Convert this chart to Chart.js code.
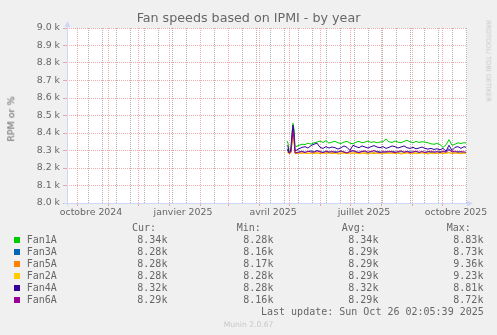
<!DOCTYPE html>
<html>
<head>
<meta charset="utf-8">
<script src="https://cdn.jsdelivr.net/npm/chart.js@4.4.0/dist/chart.umd.min.js"></script>
<style>
body { margin: 0; background: #f0f0f0; }
#wrap { position: relative; width: 497px; height: 335px; overflow: hidden; font-family: 'DejaVu Sans'; color: #666; }
#c { position: absolute; left: 0; top: 0; }
.t { position: absolute; white-space: pre; line-height: 1; }
.mono { font-family: 'DejaVu Sans Mono'; font-size: 10px; }
.sq { position: absolute; width: 6px; height: 6px; }
</style>
</head>
<body>
<div id="wrap">
<canvas id="c" width="497" height="335"></canvas>
<div class="t" style="left:0;width:497px;text-align:center;top:12px;font-size:12.7px;">Fan speeds based on IPMI - by year</div>
<div class="t" style="left:11px;top:119px;font-size:9.5px;transform:translate(-50%,-50%) rotate(-90deg);">RPM or %</div>
<div class="t" style="left:488px;top:61px;font-size:6.5px;color:#c8c8c8;transform:translate(-50%,-50%) rotate(90deg);">RRDTOOL/ TOBI OETIKER</div>
<div class="t" style="left:0;width:497px;text-align:center;top:320.5px;font-size:7.6px;color:#c8c8c8;">Munin 2.0.67</div>
</div>
<script>
// days since 21 sept 2024 (x axis spans 400 days)
var days = [220, 221, 222, 223, 224, 225, 226, 227, 228,
    229, 232, 235, 238, 241, 244, 247, 250, 253, 256,
    259, 262, 265, 268, 271, 274, 277, 280, 283, 286,
    289, 292, 295, 298, 301, 304, 307, 310, 313, 316,
    319, 322, 325, 328, 331, 334, 337, 340, 343, 346,
    349, 352, 355, 358, 361, 364, 367, 370, 373, 376,
    379, 382, 385, 388, 391, 394, 397, 399];

var fan1a = [8355, 8342, 8292, 8300, 8322, 8400, 8455, 8420, 8330,
    8322, 8330, 8336, 8334, 8342, 8336, 8344, 8348, 8354, 8346,
    8356, 8342, 8348, 8352, 8344, 8340, 8348, 8352, 8342, 8338,
    8348, 8352, 8344, 8348, 8354, 8346, 8350, 8344, 8348, 8350,
    8366, 8350, 8346, 8354, 8348, 8344, 8352, 8358, 8350, 8344,
    8352, 8346, 8350, 8348, 8344, 8338, 8336, 8340, 8334, 8318,
    8332, 8362, 8330, 8336, 8344, 8340, 8345, 8342];
var fan3a = [8310, 8300, 8285, 8286, 8292, 8370, 8420, 8380, 8290,
    8288, 8292, 8296, 8290, 8294, 8298, 8292, 8300, 8294, 8290,
    8296, 8292, 8288, 8294, 8290, 8296, 8292, 8288, 8294, 8298,
    8292, 8290, 8296, 8292, 8288, 8294, 8290, 8296, 8292, 8288,
    8294, 8290, 8296, 8292, 8288, 8294, 8290, 8296, 8292, 8290,
    8294, 8288, 8292, 8290, 8294, 8288, 8292, 8290, 8294, 8290,
    8296, 8310, 8292, 8288, 8294, 8290, 8286, 8284];
var fan5a = [8290, 8288, 8282, 8284, 8288, 8350, 8400, 8370, 8282,
    8282, 8286, 8284, 8288, 8282, 8286, 8284, 8288, 8282, 8286,
    8284, 8288, 8282, 8286, 8280, 8284, 8288, 8282, 8286, 8284,
    8288, 8282, 8286, 8284, 8280, 8286, 8282, 8288, 8284, 8282,
    8286, 8284, 8288, 8282, 8286, 8280, 8284, 8288, 8282, 8286,
    8284, 8282, 8288, 8284, 8280, 8286, 8282, 8284, 8288, 8282,
    8286, 8290, 8282, 8286, 8284, 8282, 8286, 8284];
var fan2a = [8290, 8288, 8284, 8285, 8288, 8345, 8398, 8362, 8284,
    8284, 8285, 8287, 8284, 8286, 8283, 8286, 8284, 8287, 8283,
    8286, 8284, 8287, 8283, 8285, 8287, 8284, 8286, 8283, 8287,
    8284, 8286, 8283, 8287, 8284, 8285, 8287, 8283, 8286, 8284,
    8287, 8283, 8285, 8287, 8284, 8286, 8283, 8285, 8287, 8284,
    8286, 8283, 8287, 8284, 8286, 8283, 8285, 8287, 8284, 8286,
    8283, 8288, 8285, 8287, 8284, 8286, 8285, 8283];
var fan4a = [8330, 8322, 8286, 8288, 8310, 8390, 8445, 8400, 8300,
    8300, 8310, 8318, 8322, 8314, 8328, 8336, 8342, 8318, 8312,
    8322, 8314, 8320, 8316, 8308, 8316, 8326, 8318, 8300, 8330,
    8322, 8316, 8326, 8320, 8314, 8322, 8328, 8320, 8316, 8322,
    8312, 8318, 8326, 8322, 8314, 8320, 8326, 8316, 8312, 8318,
    8310, 8314, 8320, 8312, 8308, 8312, 8306, 8310, 8304, 8312,
    8296, 8330, 8300, 8318, 8322, 8312, 8322, 8318];
var fan6a = [8300, 8298, 8286, 8288, 8294, 8360, 8410, 8372, 8286,
    8286, 8290, 8294, 8288, 8296, 8292, 8290, 8298, 8292, 8288,
    8294, 8290, 8296, 8288, 8292, 8298, 8290, 8286, 8294, 8300,
    8292, 8288, 8294, 8298, 8290, 8294, 8300, 8292, 8288, 8294,
    8290, 8296, 8292, 8288, 8294, 8298, 8290, 8294, 8288, 8292,
    8296, 8290, 8294, 8288, 8292, 8296, 8290, 8294, 8288, 8296,
    8290, 8304, 8292, 8296, 8290, 8294, 8292, 8290];

var names = ['Fan1A', 'Fan3A', 'Fan5A', 'Fan2A', 'Fan4A', 'Fan6A'];
var colors = ['#00cc00', '#0066b3', '#ff8000', '#ffcc00', '#330099', '#990099'];
var curVals = ['8.34k', '8.28k', '8.28k', '8.28k', '8.32k', '8.29k'];
var minVals = ['8.28k', '8.16k', '8.17k', '8.28k', '8.28k', '8.16k'];
var avgVals = ['8.34k', '8.29k', '8.29k', '8.29k', '8.32k', '8.29k'];
var maxVals = ['8.83k', '8.73k', '9.36k', '9.23k', '8.81k', '8.72k'];
var lastUpdate = 'Last update: Sun Oct 26 02:05:39 2025';

// x axis: month starts, 2-week minor lines, labels mid month
var monthDays = [10, 41, 71, 102, 133, 161, 192, 222, 253, 283, 314, 345, 375];
var weekDays = [21, 35, 49, 63, 77, 91, 105, 119, 147, 175, 189, 203, 217, 231, 245, 259, 273, 287, 301, 315, 329, 343, 357, 371, 385, 399];
var labelDays = [24, 116, 206, 297, 389];
var labelText = ['octobre 2024', 'janvier 2025', 'avril 2025', 'juillet 2025', 'octobre 2025'];

var series = [fan1a, fan3a, fan5a, fan2a, fan4a, fan6a];
var xTicks = monthDays.concat(weekDays, labelDays).sort(function(a, b) { return a - b; });

function xLabel(v) {
    var i = labelDays.indexOf(v);
    return i >= 0 ? labelText[i] : '';
}

var ds = [];
for (var s = 0; s < series.length; s++) {
    ds.push({
        label: names[s],
        data: days.map(function(d, i) { return { x: d, y: series[s][i] }; }),
        borderColor: colors[s],
        backgroundColor: colors[s],
        borderWidth: 1,
        pointRadius: 0,
        tension: 0,
        fill: false,
        order: series.length - 1 - s
    });
}

var canvasBg = {
    id: 'canvasBg',
    beforeDraw: function(chart) {
        var a = chart.chartArea;
        chart.ctx.save();
        chart.ctx.fillStyle = '#ffffff';
        chart.ctx.fillRect(a.left, a.top, a.right - a.left, a.bottom - a.top);
        chart.ctx.restore();
    }
};

var axisArrows = {
    id: 'axisArrows',
    afterDraw: function(chart) {
        var a = chart.chartArea, ctx = chart.ctx;
        ctx.save();
        ctx.strokeStyle = '#CFD6F8';
        ctx.fillStyle = '#CFD6F8';
        ctx.lineWidth = 1;
        ctx.beginPath();
        ctx.moveTo(a.left + 0.5, a.bottom + 3);
        ctx.lineTo(a.left + 0.5, a.top - 3);
        ctx.moveTo(a.left - 3, a.bottom + 0.5);
        ctx.lineTo(a.right + 2, a.bottom + 0.5);
        ctx.stroke();
        ctx.beginPath();
        ctx.moveTo(a.left + 0.5, a.top - 7);
        ctx.lineTo(a.left - 2.5, a.top - 1);
        ctx.lineTo(a.left + 3.5, a.top - 1);
        ctx.fill();
        ctx.beginPath();
        ctx.moveTo(a.right + 6, a.bottom + 0.5);
        ctx.lineTo(a.right, a.bottom - 2.5);
        ctx.lineTo(a.right, a.bottom + 3.5);
        ctx.fill();
        ctx.restore();
    }
};

var RED = 'rgba(233,91,91,0.5)';
var GRAY = 'rgba(143,143,143,0.7)';

new Chart(document.getElementById('c'), {
    type: 'line',
    data: { datasets: ds },
    options: {
        responsive: false,
        animation: false,
        devicePixelRatio: 1,
        layout: { padding: { top: 28, right: 30, left: 0, bottom: 0 } },
        plugins: {
            legend: { display: false },
            tooltip: { enabled: false },
            title: { display: false }
        },
        scales: {
            x: {
                type: 'linear',
                min: 0,
                max: 400,
                afterBuildTicks: function(sc) {
                    sc.ticks = xTicks.map(function(v) { return { value: v }; });
                },
                afterFit: function(sc) { sc.height = 132; },
                ticks: {
                    autoSkip: false,
                    maxRotation: 0,
                    minRotation: 0,
                    padding: 1,
                    color: '#666',
                    font: { family: 'DejaVu Sans', size: 9.4 },
                    callback: function(v) { return xLabel(v); }
                },
                grid: {
                    tickLength: 3,
                    color: function(c) {
                        var v = c.tick ? c.tick.value : null;
                        if (monthDays.indexOf(v) >= 0) return RED;
                        if (weekDays.indexOf(v) >= 0) return GRAY;
                        return 'rgba(0,0,0,0)';
                    },
                    tickColor: function(c) {
                        var v = c.tick ? c.tick.value : null;
                        return monthDays.indexOf(v) >= 0 ? RED : 'rgba(0,0,0,0)';
                    }
                },
                border: { display: false, dash: [1, 1] }
            },
            y: {
                min: 8000,
                max: 9000,
                afterFit: function(sc) { sc.width = 67; },
                ticks: {
                    stepSize: 100,
                    padding: 3,
                    color: '#666',
                    font: { family: 'DejaVu Sans', size: 9.4 },
                    callback: function(v) { return (v / 1000).toFixed(1) + ' k'; }
                },
                grid: { color: RED, tickLength: 4 },
                border: { display: false, dash: [1, 1] }
            }
        }
    },
    plugins: [canvasBg, axisArrows]
});

// munin style legend table
var wrap = document.getElementById('wrap');
function addText(txt, x, cy, cls) {
    var d = document.createElement('div');
    d.className = 't ' + (cls || 'mono');
    d.style.left = x + 'px';
    d.style.top = (cy - 4.8) + 'px';
    d.textContent = txt;
    wrap.appendChild(d);
}
addText('Cur:', 132, 228);
addText('Min:', 236.7, 228);
addText('Avg:', 341.7, 228);
addText('Max:', 446.7, 228);
for (var r = 0; r < names.length; r++) {
    var cy = 239.6 + r * 12;
    var sq = document.createElement('div');
    sq.className = 'sq';
    sq.style.left = '14px';
    sq.style.top = (cy - 3) + 'px';
    sq.style.background = colors[r];
    wrap.appendChild(sq);
    addText(names[r], 26.7, cy);
    addText(curVals[r], 137.3, cy);
    addText(minVals[r], 243.3, cy);
    addText(avgVals[r], 348.3, cy);
    addText(maxVals[r], 453.3, cy);
}
addText(lastUpdate, 261, 311.6);
</script>
</body>
</html>
